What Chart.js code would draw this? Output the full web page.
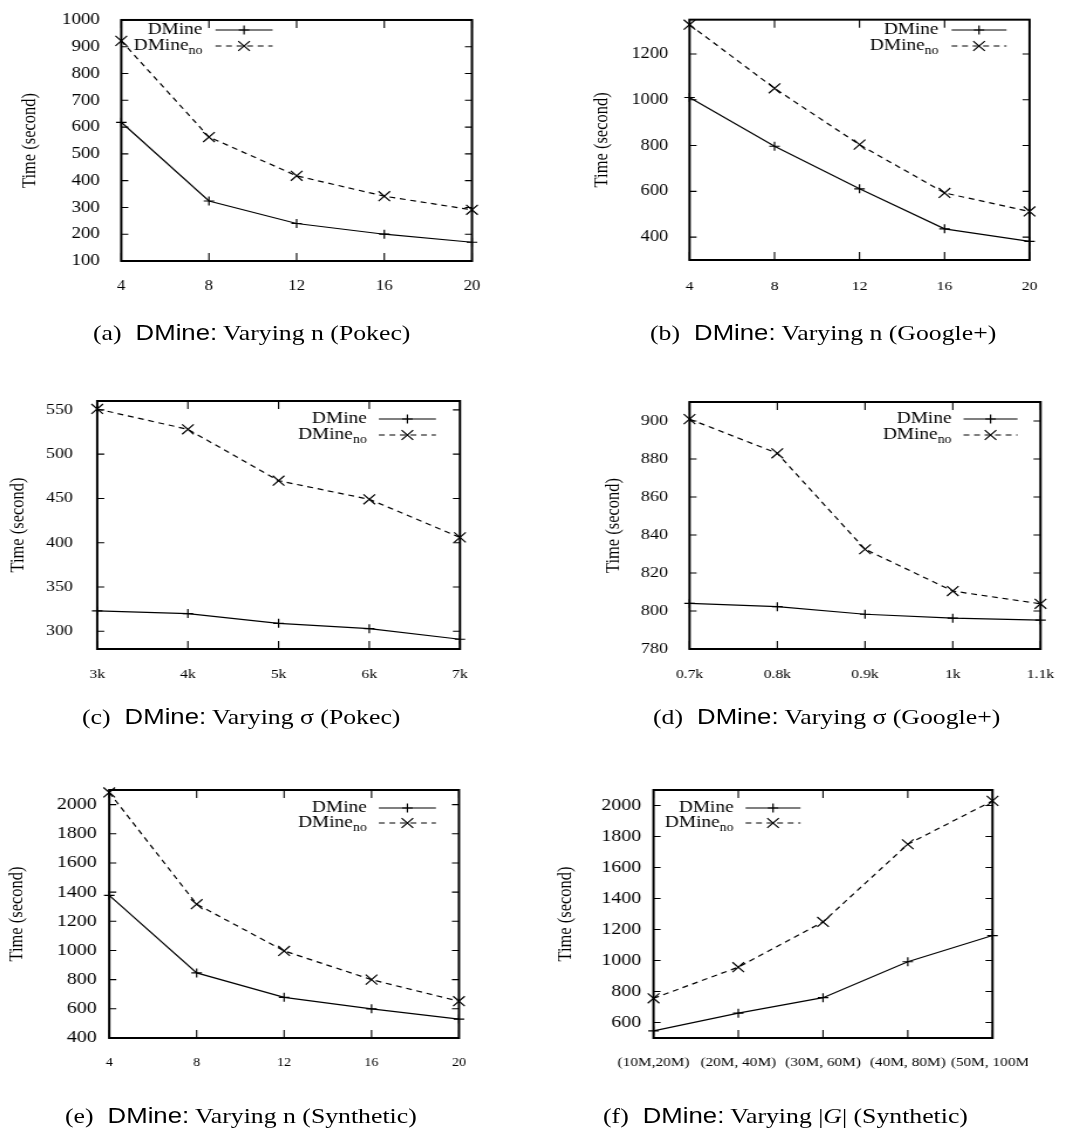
<!DOCTYPE html>
<html><head><meta charset="utf-8">
<script src="https://cdn.jsdelivr.net/npm/chart.js@4.4.1/dist/chart.umd.min.js"></script>
<style>
html,body{margin:0;padding:0;background:#fff;}
body{width:1078px;height:1133px;position:relative;overflow:hidden;}
#stage{position:absolute;left:0;top:0;height:1133px;transform-origin:0 0;}
.clip{position:absolute;overflow:hidden;}
.cap{position:absolute;font-family:"Liberation Serif","Times New Roman",serif;font-size:22px;line-height:26px;white-space:nowrap;color:#000;}
.cap .sf{font-family:"Liberation Sans",Arial,sans-serif;}
.cap .lab{margin-right:12px;}
</style></head><body>
<div id="stage"></div>
<script>
// ---------- data ----------
const seriesNames = ['DMine', 'DMine', 'no']; // second series: DMine with subscript "no"
const xTicksN = ['4', '8', '12', '16', '20'];
const xTicksSigmaPokec = ['3k', '4k', '5k', '6k', '7k'];
const xTicksSigmaGoogle = ['0.7k', '0.8k', '0.9k', '1k', '1.1k'];
const xTicksG = ['(10M,20M)', '(20M, 40M)', '(30M, 60M)', '(40M, 80M)', '(50M, 100M)'];

const dmineA = [618, 324, 240, 200, 170];
const dmineNoA = [922, 563, 418, 342, 291];
const yTicksA = [100, 200, 300, 400, 500, 600, 700, 800, 900, 1000];

const dmineB = [1010, 797, 611, 436, 381];
const dmineNoB = [1328, 1050, 804, 593, 512];
const yTicksB = [400, 600, 800, 1000, 1200];

const dmineC = [323, 320, 309, 303, 291];
const dmineNoC = [551, 528, 470, 449, 406];
const yTicksC = [300, 350, 400, 450, 500, 550];

const dmineD = [804, 802.3, 798.3, 796.2, 795.2];
const dmineNoD = [901, 883, 832.5, 810.5, 803.8];
const yTicksD = [780, 800, 820, 840, 860, 880, 900];

const dmineE = [1378, 846, 679, 600, 530];
const dmineNoE = [2083, 1317, 997, 800, 652];
const yTicksE = [400, 600, 800, 1000, 1200, 1400, 1600, 1800, 2000];

const dmineF = [546, 660, 760, 992, 1161];
const dmineNoF = [756, 957, 1249, 1750, 2030];
const yTicksF = [600, 800, 1000, 1200, 1400, 1600, 1800, 2000];

const yTitle = 'Time (second)';

// ---------- layout (final pixel coords) ----------
const S = 1.17; // horizontal stretch of the original figure
const stage = document.getElementById('stage');
stage.style.width = (1078 / S) + 'px';
stage.style.transform = 'scaleX(' + S + ')';

const panels = [
  {left:0, top:0, w:540, h:330, clip:540, L:121, R:471, T:13, B:261, labels:xTicksN, d1:dmineA, d2:dmineNoA, min:100, max:1000, yTicks:yTicksA, yFont:16.2, xFont:14.3, yGap:12, xCenter:278, titleX:30, leg:{tx:202, lx0:215, lx1:272, r1:30, r2:46}},
  {left:540, top:0, w:538, h:330, clip:538, L:689, R:1029, T:13, B:260, labels:xTicksN, d1:dmineB, d2:dmineNoB, min:300, max:1350, yTicks:yTicksB, yFont:15.7, xFont:13.4, yGap:12, xCenter:278, titleX:602, leg:{tx:938, lx0:951, lx1:1006, r1:30, r2:46}},
  {left:0, top:370, w:540, h:330, clip:540, L:97, R:459, T:401, B:649, labels:xTicksSigmaPokec, d1:dmineC, d2:dmineNoC, min:280, max:560, yTicks:yTicksC, yFont:15.2, xFont:13.4, yGap:15, xCenter:666, titleX:18, leg:{tx:366, lx0:378, lx1:435, r1:419, r2:435}},
  {left:540, top:370, w:538, h:330, clip:538, L:689, R:1040, T:402, B:649, labels:xTicksSigmaGoogle, d1:dmineD, d2:dmineNoD, min:780, max:910, yTicks:yTicksD, yFont:15.5, xFont:13.4, yGap:12, xCenter:666, titleX:613, leg:{tx:951, lx0:963, lx1:1017, r1:419, r2:435}},
  {left:0, top:740, w:540, h:340, clip:540, L:109, R:458, T:790, B:1038, labels:xTicksN, d1:dmineE, d2:dmineNoE, min:400, max:2100, yTicks:yTicksE, yFont:17, xFont:12, yGap:3, xCenter:1055, titleX:17, leg:{tx:366, lx0:378, lx1:435, r1:808, r2:823}},
  {left:540, top:740, w:538, h:340, clip:487, L:653, R:992, T:790, B:1038, labels:xTicksG, d1:dmineF, d2:dmineNoF, min:500, max:2100, yTicks:yTicksF, yFont:17, xFont:13.1, yGap:3, xCenter:1055, titleX:565, leg:{tx:733, lx0:745, lx1:800, r1:808, r2:823}}
];

const captions = [
  {x:93, y:320, lab:'(a)', rest:' Varying n (Pokec)'},
  {x:650, y:320, lab:'(b)', rest:' Varying n (Google+)'},
  {x:82, y:704, lab:'(c)', rest:' Varying σ (Pokec)'},
  {x:653, y:704, lab:'(d)', rest:' Varying σ (Google+)'},
  {x:65, y:1103, lab:'(e)', rest:' Varying n (Synthetic)'},
  {x:603, y:1103, lab:'(f)', rest:' Varying |<i>G</i>| (Synthetic)'}
];

const SERIF = '"Liberation Serif", "Times New Roman", serif';

const framePlugin = {
  id: 'frame',
  beforeDatasetsDraw(chart) {
    const {ctx, chartArea: a, scales: {x, y}} = chart;
    ctx.save();
    ctx.strokeStyle = '#000';
    ctx.lineWidth = 1.1;
    ctx.beginPath();
    y.ticks.forEach(t => {
      const py = y.getPixelForValue(t.value);
      ctx.moveTo(a.left, py); ctx.lineTo(a.left + 6, py);
      ctx.moveTo(a.right, py); ctx.lineTo(a.right - 6, py);
    });
    x.ticks.forEach((t, i) => {
      const px = x.getPixelForTick(i);
      ctx.moveTo(px, a.top); ctx.lineTo(px, a.top + 8);
      ctx.moveTo(px, a.bottom); ctx.lineTo(px, a.bottom - 8);
    });
    ctx.stroke();
    ctx.lineWidth = 2;
    ctx.strokeRect(a.left, a.top, a.right - a.left, a.bottom - a.top);
    ctx.restore();
  }
};

const legendPlugin = {
  id: 'dlegend',
  afterDatasetsDraw(chart, args, o) {
    const ctx = chart.ctx;
    ctx.save();
    ctx.fillStyle = '#000';
    ctx.textBaseline = 'middle';
    ctx.textAlign = 'right';
    const big = o.size + 'px ' + SERIF;
    const small = (o.size * 0.72) + 'px ' + SERIF;
    ctx.font = big;
    ctx.fillText(seriesNames[0], o.tx, o.r1);
    ctx.font = small;
    const subW = ctx.measureText(seriesNames[2]).width;
    ctx.fillText(seriesNames[2], o.tx, o.r2 + 5);
    ctx.font = big;
    ctx.fillText(seriesNames[1], o.tx - subW, o.r2);
    chart.data.datasets.forEach((ds, i) => {
      const yy = i === 0 ? o.r1 : o.r2;
      ctx.strokeStyle = '#000';
      ctx.lineWidth = ds.borderWidth;
      ctx.setLineDash(ds.borderDash || []);
      ctx.beginPath(); ctx.moveTo(o.lx0, yy); ctx.lineTo(o.lx1, yy); ctx.stroke();
      ctx.setLineDash([]);
      ctx.lineWidth = ds.pointBorderWidth;
      Chart.helpers.drawPoint(ctx, {pointStyle: ds.pointStyle, radius: ds.pointRadius, borderWidth: ds.pointBorderWidth, rotation: 0}, (o.lx0 + o.lx1) / 2, yy);
    });
    ctx.restore();
  }
};

panels.forEach(p => {
  const wrap = document.createElement('div');
  wrap.className = 'clip';
  wrap.style.left = (p.left / S) + 'px';
  wrap.style.top = p.top + 'px';
  wrap.style.width = (p.clip / S) + 'px';
  wrap.style.height = p.h + 'px';
  const inner = document.createElement('div');
  const wPre = p.w / S;
  inner.style.position = 'absolute';
  inner.style.left = '0px'; inner.style.top = '0px';
  inner.style.width = wPre + 'px';
  inner.style.height = p.h + 'px';
  const cv = document.createElement('canvas');
  inner.appendChild(cv); wrap.appendChild(inner); stage.appendChild(wrap);

  const Lp = (p.L - p.left) / S, Rp = (p.R - p.left) / S;
  const Tp = p.T - p.top, Bp = p.B - p.top;
  const titleFont = 16.5;
  const titlePad = (p.titleX - p.left) / S - 0.6 * titleFont;
  const xPad = (p.xCenter - p.B) - 0.6 * p.xFont;
  const lg = {
    size: 16.5,
    tx: (p.leg.tx - p.left) / S, lx0: (p.leg.lx0 - p.left) / S, lx1: (p.leg.lx1 - p.left) / S,
    r1: p.leg.r1 - p.top, r2: p.leg.r2 - p.top
  };

  new Chart(cv, {
    type: 'line',
    data: {
      labels: p.labels,
      datasets: [
        {label: 'DMine', data: p.d1, borderColor: '#000', borderWidth: 1.2, pointStyle: 'cross', pointRadius: 4.5, pointBorderWidth: 1.2, pointBorderColor: '#000', pointBackgroundColor: '#000', fill: false, tension: 0, clip: false},
        {label: 'DMine_no', data: p.d2, borderColor: '#000', borderWidth: 1.2, borderDash: [5, 4], pointStyle: 'crossRot', pointRadius: 7, pointBorderWidth: 1.2, pointBorderColor: '#000', pointBackgroundColor: '#000', fill: false, tension: 0, clip: false}
      ]
    },
    options: {
      responsive: true, maintainAspectRatio: false, animation: false, devicePixelRatio: 1,
      events: [],
      layout: {padding: {left: 0, top: Tp, right: wPre - Rp, bottom: 0}},
      plugins: {legend: {display: false}, tooltip: {enabled: false}, dlegend: lg},
      scales: {
        x: {
          type: 'category', offset: false,
          grid: {display: false}, border: {display: false},
          ticks: {autoSkip: false, maxRotation: 0, minRotation: 0, padding: xPad, color: '#000', font: {family: SERIF, size: p.xFont}},
          afterFit: s => { s.height = p.h - Bp; }
        },
        y: {
          type: 'linear', min: p.min, max: p.max,
          grid: {display: false}, border: {display: false},
          afterBuildTicks: s => { s.ticks = p.yTicks.map(v => ({value: v})); },
          ticks: {padding: p.yGap / S, color: '#000', font: {family: SERIF, size: p.yFont}, callback: v => String(v)},
          title: {display: true, text: yTitle, color: '#000', font: {family: SERIF, size: titleFont}, padding: {top: titlePad, bottom: 0}},
          afterFit: s => { s.width = Lp; }
        }
      }
    },
    plugins: [framePlugin, legendPlugin]
  });
});

captions.forEach(c => {
  const d = document.createElement('div');
  d.className = 'cap';
  d.style.left = (c.x / S) + 'px';
  d.style.top = c.y + 'px';
  d.innerHTML = '<span class="lab">' + c.lab + '</span><span class="sf">DMine:</span>' + c.rest;
  stage.appendChild(d);
});
</script>
</body></html>
